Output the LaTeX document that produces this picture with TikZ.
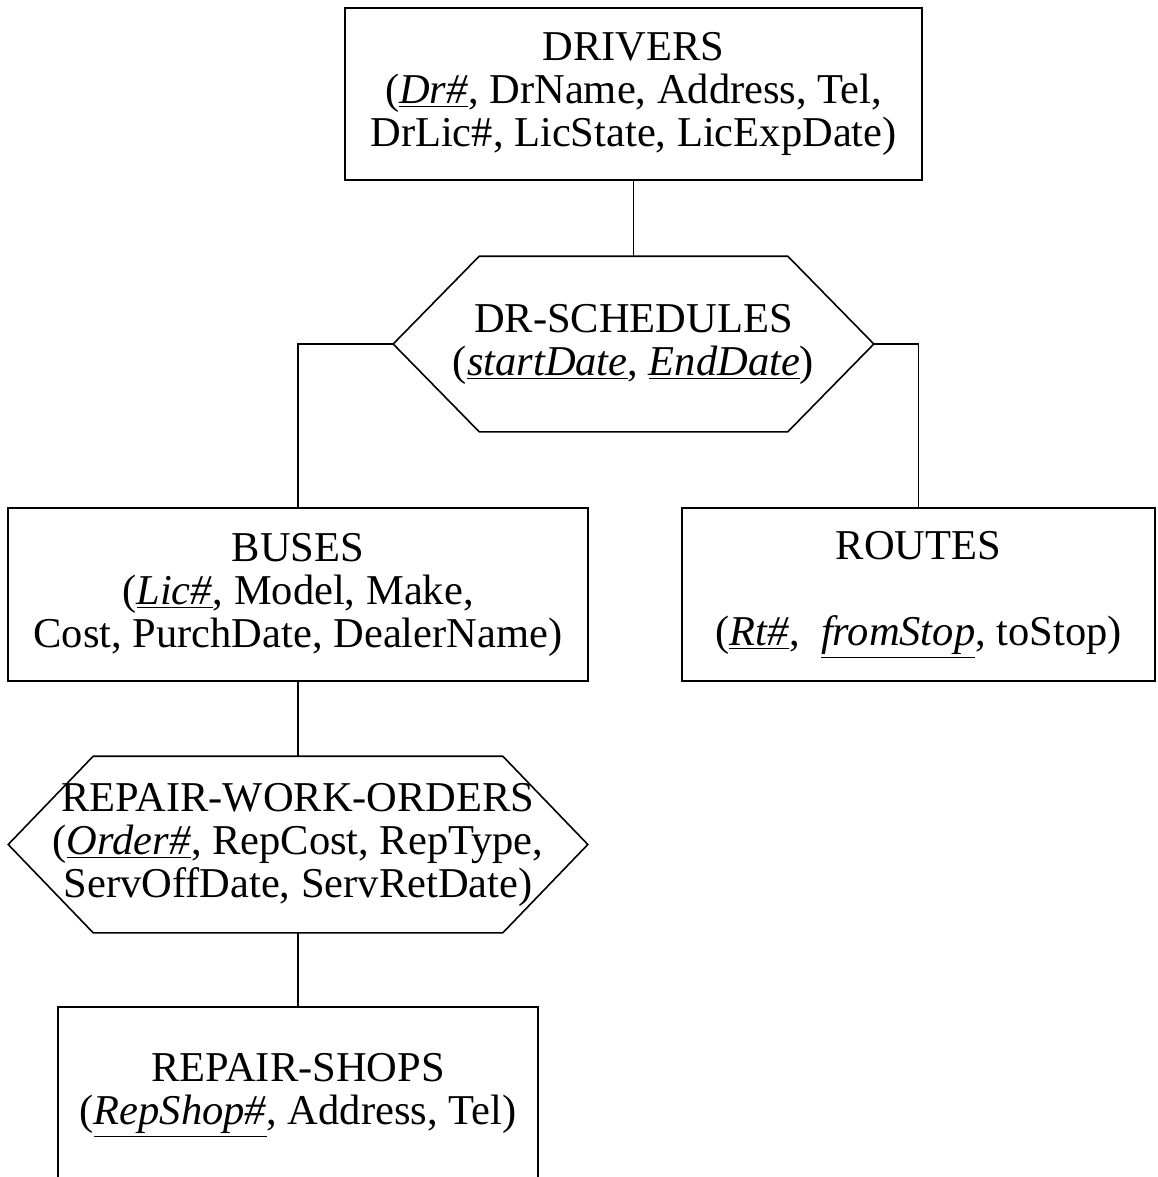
\documentclass[tikz,border=0pt]{standalone}
\usepackage{fontspec}
\setmainfont{Liberation Serif}
\usetikzlibrary{calc,positioning}

\begin{document}
\begin{tikzpicture}[x=0.5pt,y=-0.5pt,line width=0.8pt]
	\tikzstyle{entity} = [draw, rectangle, align=center, inner sep=0pt, font=\fontsize{21.25pt}{21.5pt}\selectfont]
	\tikzstyle{relation} = [rectangle, align=center, inner sep=0pt, font=\fontsize{21.25pt}{21.5pt}\selectfont]

	\useasboundingbox (0,0) rectangle (1157,1177);
	\clip (0,0) rectangle (1157,1177);

	\node[entity, minimum width=288.5pt, minimum height=86pt] (drivers) at (633.5,94)
		{DRIVERS\\(\underline{\textit{Dr\#}}, DrName, Address, Tel,\\DrLic\#, LicState, LicExpDate)};
	\node[relation, minimum width=239.5pt, minimum height=87pt] (sched) at (633.5,344)
		{DR-SCHEDULES\\(\underline{\textit{startDate}}, \underline{\textit{EndDate}})};
	\node[entity, minimum width=290pt, minimum height=86.5pt] (buses) at (298,594.5)
		{BUSES\\(\underline{\textit{Lic\#}}, Model, Make,\\Cost, PurchDate, DealerName)};
	\node[entity, minimum width=236.5pt, minimum height=86.5pt] (routes) at (918.5,594.5)
		{ROUTES\\[21.5pt](\underline{\textit{Rt\#}}, \ \underline{\textit{fromStop}}, toStop)};
	\node[relation, minimum width=289pt, minimum height=87.5pt] (orders) at (298,844.5)
		{REPAIR-WORK-ORDERS\\(\underline{\textit{Order\#}}, RepCost, RepType,\\ServOffDate, ServRetDate)};
	\node[entity, minimum width=240pt, minimum height=103pt] (shops) at (298,1110)
		{REPAIR-SHOPS\\(\underline{\textit{RepShop\#}}, Address, Tel)\\ };

	% hexagon outlines
	\draw (sched.west) -- ([xshift=43pt]sched.north west) -- ([xshift=-43pt]sched.north east)
		-- (sched.east) -- ([xshift=-43pt]sched.south east) -- ([xshift=43pt]sched.south west) -- cycle;
	\draw (orders.west) -- ([xshift=42.5pt]orders.north west) -- ([xshift=-42.5pt]orders.north east)
		-- (orders.east) -- ([xshift=-42.5pt]orders.south east) -- ([xshift=42.5pt]orders.south west) -- cycle;

	\draw (drivers) -- (sched);
	\draw (sched.west) -| (buses.north);
	\draw (sched.east) -| (routes.north);
	\draw (buses) -- (orders);
	\draw (orders) -- (shops);
\end{tikzpicture}
\end{document}
